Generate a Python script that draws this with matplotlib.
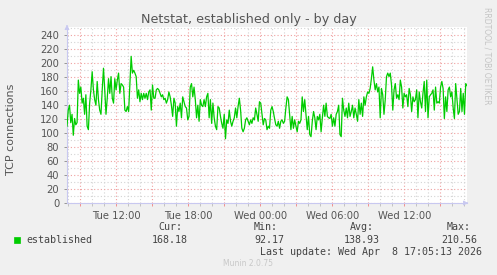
import matplotlib
matplotlib.use("Agg")
import matplotlib.pyplot as plt
import numpy as np
from matplotlib.ticker import MultipleLocator, FuncFormatter

# established connections, 5-min samples (Tue ~07:53 -> Wed ~17:13)
established = [
    110, 133, 140, 115, 127, 97, 121, 112, 115, 176, 157, 166, 143, 150, 127, 155, 110, 105, 143, 162,
    188, 162, 148, 140, 174, 148, 133, 127, 162, 193, 162, 127, 150, 178, 157, 181, 150, 143, 178, 162,
    176, 186, 157, 171, 169, 166, 133, 131, 138, 131, 171, 210, 186, 190, 186,
    181, 150, 162, 145, 157, 148, 157, 150, 157, 148, 159, 162, 133, 169, 150, 150, 162, 164, 162, 157,
    152, 155, 148, 150, 143, 148, 159, 152, 140, 124, 150, 143, 110, 138, 131, 143, 122, 152, 145, 138,
    136, 119, 124, 166, 171, 152, 166, 148, 122, 140, 117, 148, 140, 138, 148,
    138, 152, 157, 122, 148, 114, 143, 122, 110, 105, 138, 136, 124, 114, 107, 127, 92, 119, 114, 133,
    117, 110, 117, 122, 136, 122, 138, 150, 133, 107, 102, 107, 119, 122, 117, 112, 119, 114, 122, 119,
    136, 127, 117, 145, 143, 127, 112, 121, 119, 105, 110, 107, 133, 138,
    131, 121, 112, 110, 117, 107, 117, 119, 114, 117, 136, 152, 148, 127, 105, 124, 107, 119, 110, 102,
    117, 114, 119, 152, 131, 148, 127, 105, 124, 98, 95, 117, 131, 122, 105, 124, 119, 127, 102, 122,
    140, 124, 143, 124, 122, 121, 127, 110, 122, 110, 127, 131, 140,
    98, 95, 150, 133, 124, 136, 122, 143, 124, 131, 140, 122, 136, 127, 117, 148, 127, 143, 124, 152,
    140, 152, 159, 157, 164, 178, 195, 176, 162, 171, 159, 166, 122, 164, 155, 127, 148, 181, 186, 181,
    186, 169, 133, 162, 171, 150, 155, 148, 176, 166, 136, 157, 152, 155,
    138, 164, 155, 131, 152, 145, 148, 162, 122, 159, 145, 136, 157, 174, 131, 176, 122, 152, 155, 157,
    162, 133, 166, 143, 145, 143, 166, 174, 164, 121, 152, 131, 162, 166, 152, 159, 136, 121, 171, 148,
    127, 131, 164, 131, 157, 127, 171, 168,
]
t_start, t_end = 7.89, 41.22  # hours since Tue 00:00
hours = np.linspace(t_start, t_end, len(established))

title = "Netstat, established only - by day"
stats = {"Cur:": "168.18", "Min:": "92.17", "Avg:": "138.93", "Max:": "210.56"}

W, H = 497, 275
fig = plt.figure(figsize=(W / 100, H / 100), dpi=100, facecolor="#F0F0F0")
ax = fig.add_axes([67 / W, 72 / H, 400 / W, 176 / H])
ax.set_facecolor("white")


def fx(x):
    return x / W


def fy(y):
    return 1 - y / H


ax.plot(hours, established, color="#00CC00", lw=0.9, zorder=3)
ax.set_xlim(t_start, t_end)
ax.set_ylim(0, 252)

days = ["Tue", "Wed", "Thu"]
ax.xaxis.set_major_locator(MultipleLocator(3))
ax.xaxis.set_minor_locator(MultipleLocator(1))
ax.xaxis.set_major_formatter(FuncFormatter(
    lambda v, p: "%s %02d:00" % (days[int(round(v)) // 24], int(round(v)) % 24) if int(round(v)) % 6 == 0 else ""))
ax.yaxis.set_major_locator(MultipleLocator(20))
ax.yaxis.set_minor_locator(MultipleLocator(10))

ax.grid(which="minor", color="#D4D4D4", ls=(0, (1, 2)), lw=0.8, zorder=1)
ax.grid(which="major", color="#F0A0A0", ls=(0, (1, 2)), lw=0.8, zorder=2)

ax.tick_params(which="both", colors="#555555", labelsize=7.2, length=2, width=0.6)
ax.tick_params(axis="x", which="major", colors="#F08080", labelcolor="#555555")
ax.tick_params(axis="x", which="minor", colors="#BBBBBB")
ax.tick_params(axis="y", which="major", colors="#888888", labelcolor="#555555")
ax.tick_params(axis="y", which="minor", length=0)
for s in ["top", "right"]:
    ax.spines[s].set_visible(False)
for s in ["left", "bottom"]:
    ax.spines[s].set_color("#C8C8F0")
    ax.spines[s].set_linewidth(0.8)

# axis arrows
ax.annotate("", xy=(fx(471), fy(203)), xytext=(fx(464), fy(203)), xycoords="figure fraction",
            arrowprops=dict(arrowstyle="-|>", color="#C8C8F0", lw=0.6, mutation_scale=7))
ax.annotate("", xy=(fx(67), fy(22)), xytext=(fx(67), fy(29)), xycoords="figure fraction",
            arrowprops=dict(arrowstyle="-|>", color="#C8C8F0", lw=0.6, mutation_scale=7))

fig.text(fx(249), fy(19), title, ha="center", va="center", fontsize=9.2, color="#555555")
fig.text(fx(11), fy(129), "TCP connections", rotation=90, ha="center", va="center",
         fontsize=8, color="#555555")
fig.text(fx(487), fy(7), "RRDTOOL / TOBI OETIKER", rotation=270, ha="center", va="top",
         fontsize=5.5, color="#C4C4C4")

mono = dict(family="DejaVu Sans Mono", fontsize=7.2, color="#444444")
fig.patches.append(plt.Rectangle((fx(14), fy(243)), 6 / W, 6 / H, transform=fig.transFigure,
                                 facecolor="#00CC00", edgecolor="#00CC00", lw=0.5))
fig.text(fx(26), fy(240), "established", ha="left", va="center", **mono)
cols = [188, 284, 380, 477]
for (name, val), x in zip(stats.items(), cols):
    fig.text(fx(x - 6), fy(227), name, ha="right", va="center", **mono)
    fig.text(fx(x), fy(240), val, ha="right", va="center", **mono)
fig.text(fx(482), fy(252), "Last update: Wed Apr  8 17:05:13 2026", ha="right", va="center", **mono)
fig.text(fx(248), fy(264), "Munin 2.0.75", ha="center", va="center", fontsize=5.5, color="#C8C8C8")

fig.savefig("out.png", dpi=100, facecolor=fig.get_facecolor())
